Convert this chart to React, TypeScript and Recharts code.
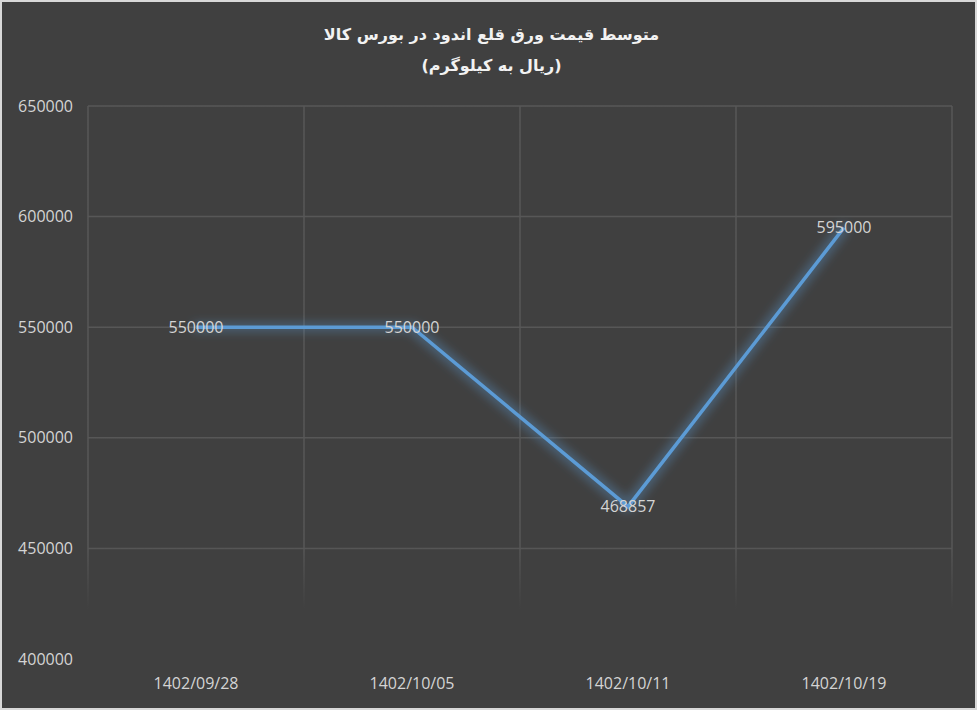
import React from 'react';
import { LineChart, Line, XAxis, YAxis, CartesianGrid, LabelList } from 'recharts';

const dates = ['1402/09/28', '1402/10/05', '1402/10/11', '1402/10/19'];
const prices = [550000, 550000, 468857, 595000];
const yTicks = [400000, 450000, 500000, 550000, 600000, 650000];

const data = dates.map((date, i) => ({ date, price: prices[i] }));

const FONT = '"Open Sans", "DejaVu Sans", sans-serif';
const TEXT = '#d4d4d4';

const App: React.FC = () => {
  return (
    <div
      style={{
        position: 'fixed',
        left: 0,
        top: 0,
        width: 977,
        height: 710,
        boxSizing: 'border-box',
        border: '2px solid #d9d9d9',
        background: '#404040',
        fontFamily: FONT,
      }}
    >
      <style>{`.glow-line .recharts-line-curve { filter: url(#glow); }`}</style>
      <div
        style={{
          position: 'absolute',
          left: 0,
          right: 0,
          top: 17,
          textAlign: 'center',
          direction: 'rtl',
          color: '#f2f2f2',
          fontWeight: 'bold',
          fontSize: 16,
          lineHeight: '31px',
          fontFamily: '"DejaVu Sans", sans-serif',
          paddingLeft: 6,
        }}
      >
        <div>متوسط قیمت ورق قلع اندود در بورس کالا</div>
        <div>(ریال به کیلوگرم)</div>
      </div>
      <LineChart
        width={973}
        height={706}
        data={data}
        margin={{ top: 104, right: 23, bottom: 0, left: 0 }}
      >
        <defs>
          <linearGradient id="gridFade" gradientUnits="userSpaceOnUse" x1="0" y1="0" x2="0" y2="706">
            <stop offset="0%" stopColor="#575757" stopOpacity={1} />
            <stop offset="77%" stopColor="#575757" stopOpacity={1} />
            <stop offset="86%" stopColor="#575757" stopOpacity={0} />
            <stop offset="100%" stopColor="#575757" stopOpacity={0} />
          </linearGradient>
          <filter id="glow" filterUnits="userSpaceOnUse" x="0" y="0" width="973" height="706">
            <feMorphology in="SourceGraphic" operator="dilate" radius="3" result="wide" />
            <feGaussianBlur in="wide" stdDeviation="5" result="blur" />
            <feComponentTransfer in="blur" result="soft">
              <feFuncA type="linear" slope="0.35" />
            </feComponentTransfer>
            <feMerge>
              <feMergeNode in="soft" />
              <feMergeNode in="SourceGraphic" />
            </feMerge>
          </filter>
        </defs>
        <CartesianGrid
          stroke="url(#gridFade)"
          strokeWidth={1.5}
          verticalCoordinatesGenerator={({ offset }: any) =>
            [0, 1, 2, 3, 4].map((i) => offset.left + (i * offset.width) / 4)
          }
        />
        <XAxis
          dataKey="date"
          height={49}
          padding={{ left: 108, right: 108 }}
          axisLine={false}
          tickLine={false}
          tickSize={0}
          tickMargin={19}
          tick={{ fill: TEXT, fontSize: 16, fontFamily: FONT }}
        />
        <YAxis
          width={86}
          domain={[400000, 650000]}
          ticks={yTicks}
          axisLine={false}
          tickLine={false}
          tickSize={0}
          tickMargin={15}
          tick={{ fill: TEXT, fontSize: 16, fontFamily: FONT }}
        />
        <Line
          className="glow-line"
          type="linear"
          dataKey="price"
          stroke="#5b9bd5"
          strokeWidth={3.5}
          dot={false}
          activeDot={false}
          isAnimationActive={false}
        >
          <LabelList
            dataKey="price"
            position="center"
            fill={TEXT}
            fontSize={16}
            fontFamily={FONT}
          />
        </Line>
      </LineChart>
    </div>
  );
};

export default App;
